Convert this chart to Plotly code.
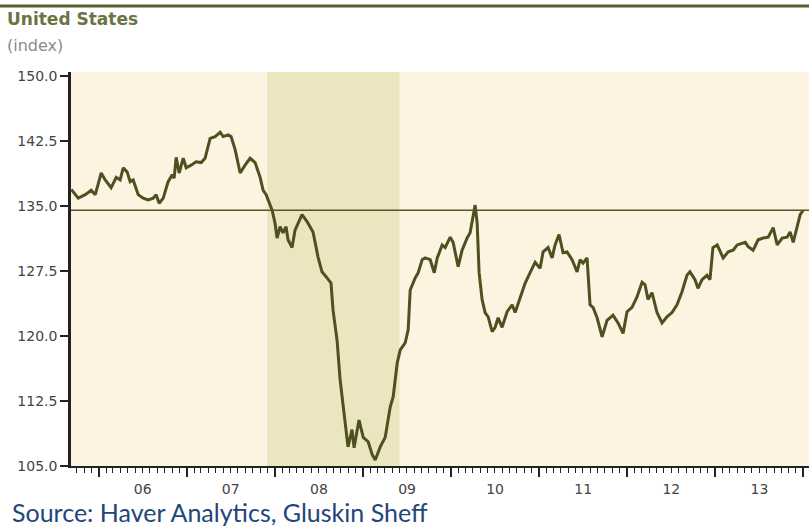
import pandas as pd
import plotly.graph_objects as go

# Weekly leading index, sampled at decimal-year positions
years = [
    2005.687, 2005.767, 2005.846, 2005.914, 2005.960, 2006.028, 2006.073, 2006.141,
    2006.198, 2006.243, 2006.278, 2006.323, 2006.357, 2006.391, 2006.448, 2006.505,
    2006.561, 2006.618, 2006.652, 2006.686, 2006.732, 2006.788, 2006.834, 2006.856,
    2006.879, 2006.913, 2006.959, 2006.993, 2007.049, 2007.106, 2007.163, 2007.208,
    2007.265, 2007.322, 2007.379, 2007.413, 2007.469, 2007.503, 2007.549, 2007.606,
    2007.662, 2007.719, 2007.776, 2007.833, 2007.867, 2007.901, 2007.969, 2008.003,
    2008.026, 2008.060, 2008.094, 2008.128, 2008.150, 2008.196, 2008.230, 2008.309,
    2008.366, 2008.434, 2008.491, 2008.536, 2008.593, 2008.638, 2008.661, 2008.707,
    2008.741, 2008.797, 2008.831, 2008.877, 2008.900, 2008.956, 2009.002, 2009.058,
    2009.104, 2009.138, 2009.195, 2009.251, 2009.308, 2009.342, 2009.388, 2009.422,
    2009.478, 2009.512, 2009.535, 2009.592, 2009.626, 2009.671, 2009.705, 2009.762,
    2009.808, 2009.842, 2009.898, 2009.932, 2009.989, 2010.023, 2010.080, 2010.125,
    2010.182, 2010.216, 2010.250, 2010.273, 2010.296, 2010.318, 2010.352, 2010.386,
    2010.421, 2010.466, 2010.500, 2010.534, 2010.579, 2010.636, 2010.693, 2010.727,
    2010.784, 2010.841, 2010.897, 2010.954, 2011.011, 2011.045, 2011.102, 2011.147,
    2011.181, 2011.226, 2011.272, 2011.317, 2011.374, 2011.431, 2011.465, 2011.499,
    2011.544, 2011.578, 2011.612, 2011.658, 2011.715, 2011.771, 2011.839, 2011.896,
    2011.953, 2011.998, 2012.055, 2012.112, 2012.169, 2012.203, 2012.237, 2012.282,
    2012.339, 2012.396, 2012.452, 2012.509, 2012.566, 2012.623, 2012.679, 2012.713,
    2012.770, 2012.804, 2012.850, 2012.906, 2012.940, 2012.974, 2013.020, 2013.054,
    2013.088, 2013.145, 2013.201, 2013.247, 2013.304, 2013.338, 2013.372, 2013.428,
    2013.485, 2013.542, 2013.599, 2013.656, 2013.701, 2013.758, 2013.814, 2013.848,
    2013.883, 2013.928, 2013.962, 2013.996,
]

index_values = [
    136.9, 135.9, 136.3, 136.8, 136.3, 138.8, 138.0, 137.1,
    138.3, 138.0, 139.4, 138.9, 137.8, 138.0, 136.3, 135.9,
    135.7, 135.9, 136.3, 135.3, 135.9, 137.8, 138.6, 138.2,
    140.6, 138.8, 140.5, 139.4, 139.7, 140.1, 140.0, 140.5,
    142.8, 143.0, 143.5, 143.0, 143.2, 143.0, 141.5, 138.8,
    139.7, 140.5, 140.0, 138.3, 136.8, 136.3, 134.5, 133.0,
    131.3, 132.6, 131.9, 132.6, 131.1, 130.2, 132.2, 134.0,
    133.2, 132.0, 129.1, 127.4, 126.7, 126.1, 123.0, 119.5,
    115.0, 110.3, 107.2, 109.2, 107.1, 110.3, 108.3, 107.8,
    106.3, 105.7, 107.2, 108.3, 111.8, 113.0, 116.9, 118.4,
    119.2, 120.7, 125.3, 126.7, 127.3, 128.8, 129.0, 128.8,
    127.3, 129.0, 130.5, 130.2, 131.4, 130.8, 128.0, 129.9,
    131.3, 131.9, 134.0, 135.1, 133.0, 127.3, 124.2, 122.7,
    122.2, 120.5, 121.0, 122.1, 121.0, 122.8, 123.6, 122.7,
    124.4, 126.1, 127.3, 128.5, 127.8, 129.7, 130.2, 129.0,
    130.5, 131.7, 129.6, 129.7, 128.8, 127.4, 128.8, 128.4,
    129.0, 123.6, 123.3, 122.1, 119.9, 121.8, 122.4, 121.5,
    120.3, 122.8, 123.3, 124.5, 126.2, 125.9, 124.2, 125.0,
    122.7, 121.5, 122.2, 122.7, 123.6, 125.1, 127.0, 127.4,
    126.5, 125.5, 126.5, 127.0, 126.5, 130.2, 130.5, 129.7,
    129.0, 129.7, 129.9, 130.5, 130.7, 130.8, 130.3, 129.9,
    131.1, 131.3, 131.4, 132.5, 130.5, 131.3, 131.4, 132.0,
    130.8, 132.6, 134.0, 134.5,
]

# Latest reading, drawn across the full width
ref_level = 134.5

# Recession period (shaded)
recession = ["2007-12-01", "2009-06-01"]

# Axis ranges and y tick values
x_range = ["2005-09-08", "2014-01-24"]
y_range = [105.0, 150.45]
y_ticks = [105.0, 112.5, 120.0, 127.5, 135.0, 142.5, 150.0]


def to_date(y):
    year = int(y)
    return pd.Timestamp(year, 1, 1) + pd.Timedelta(days=(y - year) * 365.25)


dates = [to_date(y) for y in years]

LINE = "#4E5020"
AXIS = "#222222"
TICKFONT = dict(family="DejaVu Sans", size=14, color="#444444")

W, H = 809, 528
L, R, T, B = 71, 0, 72, 62
pw, ph = W - L - R, H - T - B


def px_x(p):
    return (p - L) / pw


def px_y(p):
    return (H - B - p) / ph


fig = go.Figure()
fig.add_trace(go.Scatter(
    x=dates, y=index_values, mode="lines",
    line=dict(color=LINE, width=3), hoverinfo="skip", showlegend=False,
))

fig.add_shape(type="rect", xref="x", yref="paper",
              x0=recession[0], x1=recession[1], y0=0, y1=1,
              fillcolor="#EBE5C0", line=dict(width=0), layer="below")
fig.add_shape(type="line", xref="paper", yref="y",
              x0=0, x1=1, y0=ref_level, y1=ref_level,
              line=dict(color="#5A5424", width=1.6))
fig.add_shape(type="line", xref="paper", yref="paper",
              x0=px_x(0), x1=1, y0=px_y(6), y1=px_y(6),
              line=dict(color="#5B5E2E", width=3))

fig.add_annotation(text="<b>United States</b>", xref="paper", yref="paper",
                   x=px_x(5), y=px_y(19), xanchor="left", yanchor="middle",
                   showarrow=False,
                   font=dict(family="DejaVu Sans", size=17, color="#6B7443"))
fig.add_annotation(text="(index)", xref="paper", yref="paper",
                   x=px_x(5), y=px_y(46), xanchor="left", yanchor="middle",
                   showarrow=False,
                   font=dict(family="DejaVu Sans", size=16, color="#8a8a8a"))
fig.add_annotation(text="Source: Haver Analytics, Gluskin Sheff",
                   xref="paper", yref="paper",
                   x=px_x(10), y=px_y(512), xanchor="left", yanchor="middle",
                   showarrow=False,
                   font=dict(family="Lato", size=25, color="#23457A"))

fig.update_xaxes(
    type="date", range=x_range, showgrid=False, zeroline=False,
    showline=True, linecolor=AXIS, linewidth=2,
    dtick="M12", tick0="2005-01-01", tickformat="%y", ticklabelmode="period",
    ticks="outside", ticklen=9, tickwidth=2, tickcolor=AXIS,
    tickfont=TICKFONT,
    minor=dict(dtick="M1", tick0="2005-01-01", ticks="outside",
               ticklen=5, tickwidth=1, tickcolor=AXIS, showgrid=False),
)
fig.update_yaxes(
    range=y_range, showgrid=False, zeroline=False,
    showline=True, linecolor=AXIS, linewidth=2.5,
    tickvals=y_ticks, ticktext=[f"{v:.1f}" for v in y_ticks],
    ticks="outside", ticklen=8, tickwidth=2, tickcolor=AXIS,
    tickfont=TICKFONT,
)

fig.update_layout(
    width=W, height=H, autosize=False,
    margin=dict(l=L, r=R, t=T, b=B, pad=0),
    paper_bgcolor="white", plot_bgcolor="#FCF3E0",
    showlegend=False,
)

fig.write_html("out.html")
